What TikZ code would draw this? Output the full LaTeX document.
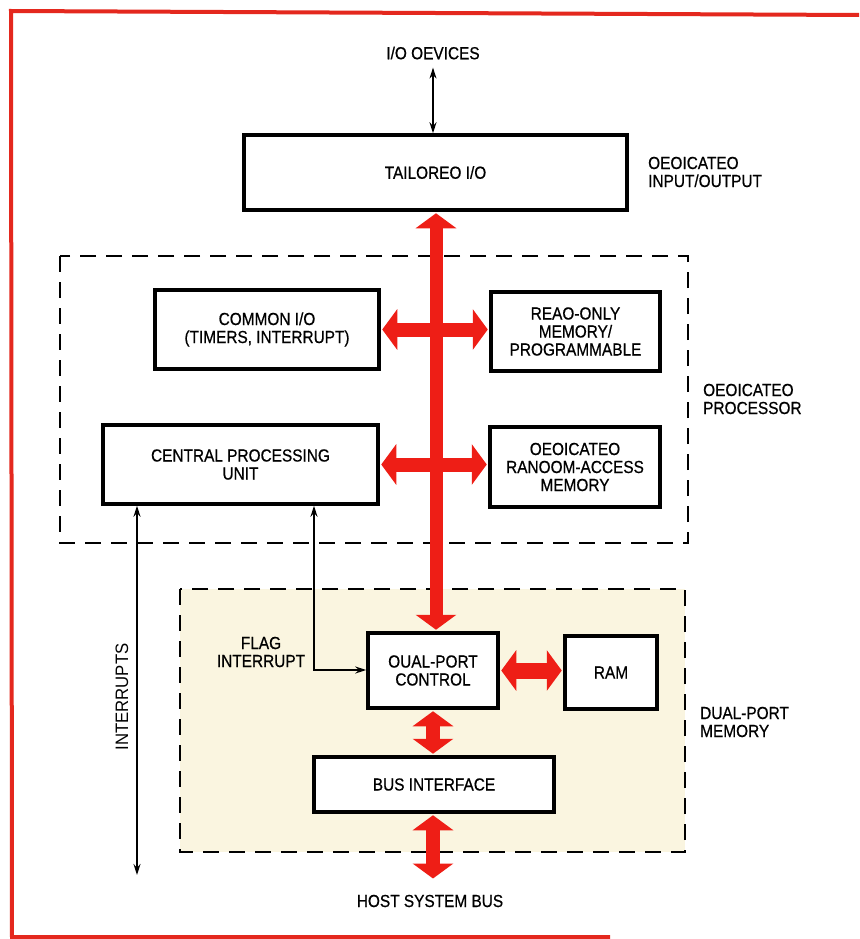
\documentclass[tikz,border=0pt]{standalone}
\usepackage{fontspec}
\setmainfont{Liberation Sans}[FakeStretch=0.88, FakeBold=0.6]
\newfontfamily\intfont{Liberation Sans}[FakeStretch=0.93]
\usetikzlibrary{arrows.meta}
\definecolor{dred}{RGB}{238,30,22}
\definecolor{framered}{RGB}{228,40,30}
\definecolor{cream}{RGB}{250,245,224}
\begin{document}
\begin{tikzpicture}[x=1pt,y=-1pt, font=\fontsize{17.5}{18}\selectfont,
  box/.style={draw, line width=3.5pt, fill=white, inner sep=0pt, align=center},
  dbox/.style={draw, line width=2pt, dash pattern=on 16pt off 10pt},
  redarr/.style={draw=dred, line width=14pt, shorten >=1.5pt, shorten <=1.5pt,
    {Triangle[width=40pt,length=15pt]}-{Triangle[width=40pt,length=15pt]}},
  thinarr/.style={line width=1.3pt, {Stealth[length=11pt,width=7pt]}-{Stealth[length=11pt,width=7pt]}},
  lbl/.style={inner sep=0pt, align=left, anchor=west},
  txt/.style={inner sep=0pt, align=center}]

\useasboundingbox (0,0) rectangle (859,939);
\fill[white] (0,0) rectangle (859,939);
\draw[framered, line width=4pt] (859,15) -- (11,11) -- (12,937) -- (610,937);

% dashed groups
\draw[dbox] (60,256) rectangle (688,543);
\draw[dbox, fill=cream] (180,589) rectangle (685,852);

% boxes
\node[box, minimum width=383pt, minimum height=75pt] (tio) at (435.5,172.5) {TAILOREO I/O};
\node[box, minimum width=224pt, minimum height=79pt] (cio) at (267,329.5) {COMMON I/O\\(TIMERS, INTERRUPT)};
\node[box, minimum width=169pt, minimum height=79pt] (rom) at (575.5,331.5) {REAO-ONLY\\MEMORY/\\PROGRAMMABLE};
\node[box, minimum width=275pt, minimum height=79pt] (cpu) at (240.5,464.5) {CENTRAL PROCESSING\\UNIT};
\node[box, minimum width=170pt, minimum height=80pt] (dram) at (575,467) {OEOICATEO\\RANOOM-ACCESS\\MEMORY};
\node[box, minimum width=130pt, minimum height=75pt] (dpc) at (433,670.5) {OUAL-PORT\\CONTROL};
\node[box, minimum width=92pt, minimum height=73pt] (ram) at (611,672.5) {RAM};
\node[box, minimum width=240pt, minimum height=55pt] (bi) at (434,784.5) {BUS INTERFACE};

% coordinates
\coordinate (busx) at (436,0);
\coordinate (hostend) at (433,880);
\coordinate (intx) at (137,0);
\coordinate (intend) at (137,875);
\coordinate (fl) at (314,670);

% red arrows
\draw[redarr] (cio.east) -- (cio.east -| rom.west);
\draw[redarr] (cpu.east) -- (cpu.east -| dram.west);
\draw[redarr, line width=13pt] (tio.south -| busx) -- (dpc.north -| busx);
\draw[redarr, line width=16pt] (dpc.east) -- (dpc.east -| ram.west);
\draw[redarr] (dpc.south) -- (dpc.south |- bi.north);
\draw[redarr] (bi.south -| hostend) -- (hostend);

% texts
\node[txt] (iodev) at (433,53) {I/O OEVICES};
\node[txt] (host) at (430,901) {HOST SYSTEM BUS};
\node[lbl] (ldio) at (648,172) {OEOICATEO\\INPUT/OUTPUT};
\node[lbl] (ldp) at (703,399) {OEOICATEO\\PROCESSOR};
\node[lbl] (ldpm) at (700,722) {DUAL-PORT\\MEMORY};
\node[txt] (flag) at (261,652) {FLAG\\INTERRUPT};
\node[txt, rotate=90, font=\intfont\fontsize{18}{18}\selectfont] (intl) at (122,697) {INTERRUPTS};

% thin arrows
\draw[thinarr] ([yshift=-8pt]iodev.south) -- (iodev.south |- tio.north);
\draw[thinarr] (cpu.south -| intx) -- (intend);
\draw[thinarr] (cpu.south -| fl) -- (fl) -- (dpc.west |- fl);
\end{tikzpicture}
\end{document}
